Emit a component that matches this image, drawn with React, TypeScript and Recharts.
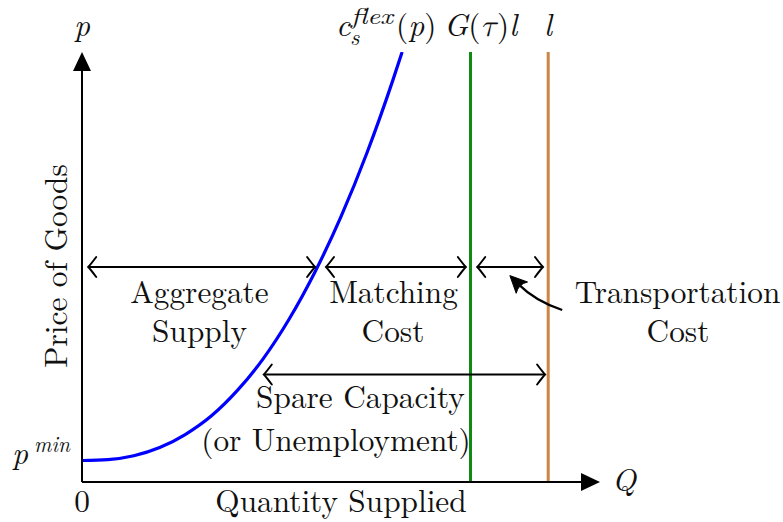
import React from 'react';
import { ComposedChart, Line, XAxis, YAxis, ReferenceLine, Customized } from 'recharts';

// Supply curve c_s^flex(p): quantity Q vs price p
const supplyQ = [0, 0.5, 1, 1.5, 2, 2.5, 3, 3.5, 4, 4.5, 5, 5.5, 6, 6.18];
const supplyP = [0.5, 0.52, 0.61, 0.8, 1.11, 1.54, 2.13, 2.87, 3.79, 4.89, 6.17, 7.65, 9.34, 10];

// vertical capacity lines
const matchedQ = 7.5; // G(tau) l
const laborQ = 9; // l
const lineTopP = 10;

// double-headed span arrows
const spanNames = ['Aggregate Supply', 'Matching Cost', 'Transportation Cost', 'Spare Capacity'];
const spanStartQ = [0.12, 4.71, 7.63, 3.51];
const spanEndQ = [4.5, 7.41, 8.9, 8.94];
const spanP = [5, 5, 5, 2.5];

// curved pointer for Transportation Cost
const pointerFrom = { q: 9.27, p: 4.0 };
const pointerTo = { q: 8.26, p: 4.8 };

const curveData = supplyQ.map((q, i) => ({ q, p: supplyP[i] }));

const SERIF = '"Latin Modern Roman", "Latin Modern Math", "Liberation Serif", "DejaVu Serif"';
const FS = 31.3;
const FSS = 23;

const DoubleArrow = (props: any) => {
  const { x1, y1, x2, y2 } = props;
  const y = (y1 + y2) / 2;
  const a = 8;
  const h = 10;
  return (
    <g stroke="#000" strokeWidth={2} fill="none" strokeLinecap="round">
      <line x1={x1 + 1} y1={y} x2={x2 - 1} y2={y} />
      <path d={`M${x1 + a},${y - h} Q${x1 + 2},${y - 2} ${x1},${y} Q${x1 + 2},${y + 2} ${x1 + a},${y + h}`} />
      <path d={`M${x2 - a},${y - h} Q${x2 - 2},${y - 2} ${x2},${y} Q${x2 - 2},${y + 2} ${x2 - a},${y + h}`} />
    </g>
  );
};

const CurvedPointer = (props: any) => {
  const { x1, y1, x2, y2 } = props;
  const cx = x1 - 27;
  const cy = y1 - 9;
  let dx = x2 - cx;
  let dy = y2 - cy;
  const len = Math.sqrt(dx * dx + dy * dy) || 1;
  dx /= len;
  dy /= len;
  const hl = 17;
  const hw = 8;
  const bx = x2 - dx * hl;
  const by = y2 - dy * hl;
  const ex = x2 - dx * 12;
  const ey = y2 - dy * 12;
  const nx = -dy;
  const ny = dx;
  return (
    <g>
      <path d={`M${x1},${y1} Q${cx},${cy} ${ex},${ey}`} stroke="#000" strokeWidth={2.2} fill="none" />
      <path
        d={`M${x2},${y2} L${bx + nx * hw},${by + ny * hw} Q${x2 - dx * 12},${y2 - dy * 12} ${bx - nx * hw},${by - ny * hw} Z`}
        fill="#000"
        stroke="#000"
        strokeWidth={1}
        strokeLinejoin="round"
      />
    </g>
  );
};

const AxisArrow = (props: any) => {
  const { x1, y1, x2, y2 } = props;
  let dx = x2 - x1;
  let dy = y2 - y1;
  const len = Math.sqrt(dx * dx + dy * dy) || 1;
  dx /= len;
  dy /= len;
  const hl = 19;
  const hw = 9;
  const bx = x2 - dx * hl;
  const by = y2 - dy * hl;
  const nx = -dy;
  const ny = dx;
  return (
    <g>
      <line x1={x1} y1={y1} x2={bx + dx * 2} y2={by + dy * 2} stroke="#000" strokeWidth={2} />
      <path d={`M${x2},${y2} L${bx + nx * hw},${by + ny * hw} L${bx - nx * hw},${by - ny * hw} Z`} fill="#000" />
    </g>
  );
};

const T = ({ size = FS, it = false, children, ...rest }: any) => (
  <text
    {...rest}
    fill="#111"
    style={{ fontFamily: SERIF, fontSize: size, fontStyle: it ? 'italic' : 'normal' }}
  >
    {children}
  </text>
);

const I = ({ children }: any) => <tspan style={{ fontStyle: 'italic' }}>{children}</tspan>;

const Labels = () => (
  <g>
    {/* axis variable labels */}
    <T x={82} y={36} textAnchor="middle" it>p</T>
    <T x={612} y={491} it>Q</T>
    <T x={82} y={512} textAnchor="middle">0</T>
    <T x={341} y={512} textAnchor="middle">Quantity Supplied</T>
    <T x={67} y={266} textAnchor="middle" transform="rotate(-90 67 266)">Price of Goods</T>
    {/* p^min */}
    <T x={12} y={464} it>p</T>
    <T x={34} y={452} it size={FSS} textLength={36} lengthAdjust="spacingAndGlyphs">min</T>
    {/* c_s^flex(p) */}
    <T x={336} y={36} it>c</T>
    <T x={350} y={45} it size={FSS}>s</T>
    <T x={351} y={24} it size={FSS} textLength={42} lengthAdjust="spacingAndGlyphs">flex</T>
    <T x={396} y={36}>(<I>p</I>)</T>
    {/* G(tau)l */}
    <T x={444} y={36}><I>G</I>(<I>τ</I>)<I>l</I></T>
    <T x={548} y={36} textAnchor="middle" it>l</T>
    {/* span labels */}
    <T x={199.5} y={303} textAnchor="middle">Aggregate</T>
    <T x={199.5} y={342} textAnchor="middle">Supply</T>
    <T x={393.5} y={303} textAnchor="middle">Matching</T>
    <T x={393} y={342} textAnchor="middle">Cost</T>
    <T x={677.5} y={303} textAnchor="middle">Transportation</T>
    <T x={678} y={342} textAnchor="middle">Cost</T>
    <T x={360.5} y={408} textAnchor="middle">Spare Capacity</T>
    <T x={336} y={451} textAnchor="middle">(or Unemployment)</T>
  </g>
);

export default function App() {
  return (
    <div style={{ position: 'absolute', left: 0, top: 0, width: 783, height: 522, background: '#fff' }}>
      <ComposedChart width={783} height={522} margin={{ top: 52, right: 183, bottom: 40, left: 82 }}>
        <XAxis type="number" dataKey="q" domain={[0, 10]} hide allowDataOverflow />
        <YAxis type="number" dataKey="p" domain={[0, 10]} hide allowDataOverflow />
        <ReferenceLine
          segment={[{ x: matchedQ, y: 0 }, { x: matchedQ, y: lineTopP }]}
          stroke="#108a10"
          strokeWidth={3}
          ifOverflow="visible"
        />
        <ReferenceLine
          segment={[{ x: laborQ, y: 0 }, { x: laborQ, y: lineTopP }]}
          stroke="#cc8644"
          strokeWidth={3}
          ifOverflow="visible"
        />
        <Line
          data={curveData}
          dataKey="p"
          type="monotone"
          stroke="#0000ff"
          strokeWidth={3.2}
          dot={false}
          activeDot={false}
          isAnimationActive={false}
        />
        {spanNames.map((name, i) => (
          <ReferenceLine
            key={name}
            segment={[{ x: spanStartQ[i], y: spanP[i] }, { x: spanEndQ[i], y: spanP[i] }]}
            ifOverflow="visible"
            shape={(p: any) => <DoubleArrow {...p} />}
          />
        ))}
        <ReferenceLine
          segment={[{ x: pointerFrom.q, y: pointerFrom.p }, { x: pointerTo.q, y: pointerTo.p }]}
          ifOverflow="visible"
          shape={(p: any) => <CurvedPointer {...p} />}
        />
        <ReferenceLine
          segment={[{ x: 0, y: 0 }, { x: 10, y: 0 }]}
          ifOverflow="visible"
          shape={(p: any) => <AxisArrow {...p} />}
        />
        <ReferenceLine
          segment={[{ x: 0, y: 0 }, { x: 0, y: 10 }]}
          ifOverflow="visible"
          shape={(p: any) => <AxisArrow {...p} />}
        />
        <Customized component={<Labels />} />
      </ComposedChart>
    </div>
  );
}
